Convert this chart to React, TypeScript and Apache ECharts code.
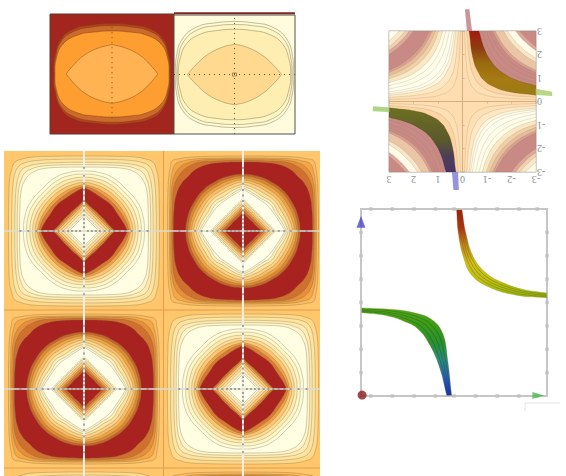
import React, { useEffect, useRef } from "react";
import * as echarts from "echarts";

type P = [number, number];
type Poly = { pts: P[]; fill: any; stroke?: string };

// ---------- data ----------
// Panel A (dark red lens plot): first-quadrant contours, from x axis to y axis
const lensA: P[][] = [
  [[0.945, 0], [0.93, 0.26], [0.82, 0.59], [0.6, 0.76], [0.3, 0.82], [0, 0.84]],
  [[0.93, 0], [0.91, 0.28], [0.81, 0.56], [0.59, 0.72], [0.3, 0.785], [0, 0.805]],
  [[0.92, 0], [0.9, 0.25], [0.79, 0.5], [0.55, 0.65], [0.28, 0.7], [0, 0.717]],
  [[0.74, 0], [0.62, 0.15], [0.44, 0.32], [0.2, 0.44], [0, 0.49]],
];
const lensAColors = ["#B4411F", "#CB6A2A", "#FE9E30", "#FFB352"];

// Panel B (pale lens plot)
const lensB: P[][] = [
  [[0.97, 0], [0.96, 0.3], [0.86, 0.6], [0.62, 0.8], [0.3, 0.87], [0, 0.89]],
  [[0.95, 0], [0.93, 0.28], [0.83, 0.57], [0.59, 0.76], [0.3, 0.82], [0, 0.84]],
  [[0.93, 0], [0.9, 0.26], [0.79, 0.52], [0.56, 0.68], [0.28, 0.74], [0, 0.76]],
  [[0.78, 0], [0.64, 0.16], [0.45, 0.33], [0.2, 0.46], [0, 0.51]],
];
const lensBColors = ["#FFF9D4", "#FFF6C6", "#FFEEB2", "#FFD98F"];

// Panel D: contour octants (axis to diagonal), in half-cell units
const paleCell: P[][] = [
  [[0.95, 0], [0.945, 0.45], [0.935, 0.66], [0.91, 0.78], [0.87, 0.87]],
  [[0.91, 0], [0.905, 0.4], [0.89, 0.61], [0.865, 0.74], [0.82, 0.82]],
  [[0.87, 0], [0.865, 0.36], [0.85, 0.57], [0.825, 0.69], [0.78, 0.78]],
  [[0.84, 0], [0.835, 0.34], [0.82, 0.54], [0.79, 0.65], [0.74, 0.74]],
  [[0.81, 0], [0.805, 0.32], [0.79, 0.51], [0.755, 0.62], [0.7, 0.7]],
  [[0.76, 0], [0.74, 0.2], [0.67, 0.37], [0.53, 0.53]],
  [[0.72, 0], [0.7, 0.19], [0.63, 0.35], [0.5, 0.5]],
  [[0.68, 0], [0.66, 0.17], [0.59, 0.33], [0.47, 0.47]],
  [[0.645, 0], [0.62, 0.16], [0.55, 0.31], [0.44, 0.44]],
  [[0.615, 0], [0.585, 0.15], [0.52, 0.29], [0.415, 0.415]],
  [[0.59, 0], [0.55, 0.14], [0.48, 0.27], [0.385, 0.385]],
  [[0.57, 0], [0.53, 0.12], [0.45, 0.25], [0.36, 0.36]],
  [[0.55, 0], [0.5, 0.1], [0.42, 0.22], [0.335, 0.335]],
  [[0.39, 0], [0.32, 0.07], [0.26, 0.14], [0.2, 0.2]],
  [[0.365, 0], [0.3, 0.07], [0.24, 0.13], [0.185, 0.185]],
  [[0.335, 0], [0.28, 0.06], [0.22, 0.12], [0.17, 0.17]],
  [[0.3, 0], [0.25, 0.05], [0.2, 0.1], [0.15, 0.15]],
  [[0.26, 0], [0.21, 0.05], [0.17, 0.09], [0.13, 0.13]],
  [[0.22, 0], [0.18, 0.04], [0.14, 0.08], [0.11, 0.11]],
  [[0.19, 0], [0.15, 0.04], [0.12, 0.07], [0.095, 0.095]],
];
const paleCellColors = [
  "#FFD88A", "#FFE3A0", "#FFECB5", "#FFF5C8", "#FFFDE2",
  "#FFFCDA", "#FFF6C8", "#FFEBB0", "#FFDD95", "#FDC673", "#F0A24A", "#D87A33", "#A8231F",
  "#D27A34", "#EBA04A", "#FBC478", "#FFDB9A", "#FFECBA", "#FFF8D8", "#FFFEE8",
];
const bigCell: P[][] = [
  [[0.95, 0], [0.945, 0.46], [0.935, 0.67], [0.915, 0.8], [0.89, 0.89]],
  [[0.925, 0], [0.92, 0.43], [0.91, 0.63], [0.885, 0.76], [0.85, 0.85]],
  [[0.91, 0], [0.905, 0.4], [0.89, 0.59], [0.855, 0.72], [0.8, 0.8]],
  [[0.895, 0], [0.885, 0.37], [0.87, 0.55], [0.825, 0.67], [0.76, 0.76]],
  [[0.875, 0], [0.865, 0.3], [0.835, 0.47], [0.775, 0.6], [0.69, 0.69]],
  [[0.72, 0], [0.69, 0.2], [0.62, 0.36], [0.51, 0.51]],
  [[0.695, 0], [0.665, 0.19], [0.6, 0.34], [0.49, 0.49]],
  [[0.67, 0], [0.64, 0.17], [0.57, 0.32], [0.465, 0.465]],
  [[0.645, 0], [0.61, 0.16], [0.54, 0.3], [0.44, 0.44]],
  [[0.62, 0], [0.58, 0.15], [0.51, 0.28], [0.415, 0.415]],
  [[0.595, 0], [0.55, 0.13], [0.48, 0.26], [0.39, 0.39]],
  [[0.57, 0], [0.52, 0.12], [0.44, 0.24], [0.365, 0.365]],
  [[0.55, 0], [0.49, 0.11], [0.41, 0.23], [0.34, 0.34]],
  [[0.53, 0], [0.47, 0.1], [0.39, 0.22], [0.315, 0.315]],
  [[0.41, 0], [0.34, 0.07], [0.27, 0.14], [0.205, 0.205]],
  [[0.385, 0], [0.32, 0.07], [0.255, 0.135], [0.195, 0.195]],
  [[0.36, 0], [0.3, 0.06], [0.24, 0.125], [0.18, 0.18]],
  [[0.33, 0], [0.27, 0.06], [0.22, 0.115], [0.165, 0.165]],
  [[0.3, 0], [0.25, 0.05], [0.2, 0.1], [0.15, 0.15]],
  [[0.27, 0], [0.22, 0.05], [0.18, 0.09], [0.135, 0.135]],
  [[0.235, 0], [0.19, 0.04], [0.15, 0.08], [0.118, 0.118]],
];
const bigCellColors = [
  "#FDBB60", "#F5A748", "#E68F3A", "#D0702F", "#A8231F",
  "#C5652B", "#DE8835", "#F0A545", "#F9BF68", "#FFD285", "#FFE3A0", "#FFF0BE", "#FFFADA", "#FFFEE8",
  "#FFF6D0", "#FFE6AC", "#FFD488", "#F5B160", "#E08F40", "#C8672E", "#A8231F",
];
const paleCenters: P[] = [[0, 0], [2, -2], [0, -4]];
const bigCenters: P[] = [[2, 0], [0, -2], [2, -4]];
const crossX = [0, 2];
const crossY = [0, -2];
const borderX = [1];
const borderY = [-1, -3];
const crossTicks = [0.05, 0.1, 0.15, 0.2, 0.26, 0.32, 0.38, 0.45, 0.52, 0.6, 0.7, 0.8];

// Panel C: hyperbolic contours (half-curves, edge to diagonal) by level
const curves: P[][] = [
  [[3, 0.08], [1.5, 0.17], [0.8, 0.31], [0.5, 0.5]],
  [[3, 0.17], [1.6, 0.31], [1, 0.5], [0.71, 0.71]],
  [[3, 0.27], [1.8, 0.44], [1.2, 0.67], [0.89, 0.89]],
  [[3, 0.33], [2, 0.5], [1.4, 0.71], [1, 1]],
  [[3, 0.4], [2, 0.6], [1.5, 0.8], [1.1, 1.1]],
  [[3, 0.53], [2.2, 0.73], [1.6, 1], [1.26, 1.26]],
  [[3, 0.67], [2.2, 0.91], [1.7, 1.18], [1.41, 1.41]],
  [[3, 0.8], [2.3, 1.04], [1.8, 1.33], [1.55, 1.55]],
  [[3, 0.97], [2.4, 1.2], [2, 1.45], [1.7, 1.7]],
  [[3, 1.1], [2.5, 1.32], [2.1, 1.57], [1.82, 1.82]],
  [[3, 1.23], [2.5, 1.48], [2.2, 1.68], [1.92, 1.92]],
  [[3, 1.33], [2.5, 1.6], [2.2, 1.82], [2, 2]],
  [[3, 1.67], [2.6, 1.92], [2.24, 2.24]],
  [[3, 1.83], [2.6, 2.12], [2.35, 2.35]],
  [[3, 2], [2.7, 2.22], [2.45, 2.45]],
  [[3, 2.17], [2.75, 2.36], [2.55, 2.55]],
  [[3, 2.33], [2.8, 2.5], [2.65, 2.65]],
  [[3, 2.57], [2.78, 2.78]],
];
const sameSignLevels = [0, 1, 2, 3, 4, 5, 6, 7, 8, 9, 10, 11, 14, 15, 16, 17];
const sameSignColors = [
  "#FFDFB4", "#FFE8C4", "#FFF6DC", "#FFFDEE", "#FFFDEC", "#FFFDEA", "#FFFCE8",
  "#F8E8C4", "#F0D0A8", "#E6BC9A", "#D8A08E", "#C98A86", "#DDA79A", "#EFD0B0", "#F8E8C8", "#FFFAEA",
];
const oppositeSignLevels = [0, 1, 2, 5, 6, 7, 8, 9, 10, 11, 12, 13, 15, 16];
const oppositeSignColors = [
  "#FFDFB4", "#FDD4A4", "#FBC890", "#C98A86", "#C98A86", "#C98A86", "#C98A86", "#C98A86",
  "#D8A08E", "#EBC6A6", "#F8E6C6", "#FFFBE8", "#DDA79A", "#C98A86",
];
const bandInnerLevel = 2;
const bandOuterLevel = 6;
const bandTopStops = ["#A81810", "#8E3A10", "#9A6A10", "#A67A14", "#9A7A14"];
const bandBottomStops = ["#6E7020", "#646428", "#5A5A2A", "#4E3E58", "#4A3468"];
const stripRight: P[] = [[-2.98, 0.54], [-3.66, 0.42], [-3.66, 0.23], [-2.98, 0.28]];
const stripTop: P[] = [[-0.1, 3.93], [-0.28, 3.93], [-0.39, 3], [-0.18, 3]];
const stripBottom: P[] = [[0.43, -3], [0.18, -3], [0.15, -3.77], [0.37, -3.77]];
const stripLeft: P[] = [[3.66, -0.2], [2.98, -0.25], [2.98, -0.45], [3.66, -0.42]];
const stripColors = ["rgba(160,200,90,0.75)", "rgba(190,130,140,0.85)", "rgba(130,130,215,0.85)", "rgba(160,205,110,0.85)"];

// Panel E: the two bands
const upperBandLines: P[][] = [
  [[0.12, 3.96], [0.2, 2.96], [0.43, 1.96], [0.82, 1.17], [1.66, 0.64], [2.89, 0.31], [4.28, 0.2]],
  [[0.18, 3.96], [0.29, 2.96], [0.55, 1.96], [0.99, 1.19], [1.82, 0.69], [2.97, 0.37], [4.28, 0.25]],
  [[0.24, 3.96], [0.37, 2.96], [0.66, 1.96], [1.16, 1.2], [1.97, 0.74], [3.05, 0.44], [4.28, 0.3]],
  [[0.31, 3.96], [0.46, 2.96], [0.78, 1.96], [1.33, 1.22], [2.12, 0.79], [3.12, 0.5], [4.28, 0.36]],
  [[0.37, 3.96], [0.55, 2.96], [0.89, 1.96], [1.51, 1.24], [2.28, 0.84], [3.2, 0.56], [4.28, 0.41]],
];
const lowerBandLines: P[][] = [
  [[-4.26, -0.23], [-2.95, -0.29], [-1.88, -0.43], [-1.03, -0.73], [-0.52, -1.33], [-0.29, -2.47], [-0.11, -3.97]],
  [[-4.26, -0.28], [-3.03, -0.35], [-2.0, -0.52], [-1.19, -0.83], [-0.67, -1.45], [-0.38, -2.56], [-0.17, -3.97]],
  [[-4.26, -0.34], [-3.1, -0.41], [-2.11, -0.61], [-1.34, -0.93], [-0.82, -1.58], [-0.47, -2.65], [-0.23, -3.97]],
  [[-4.26, -0.39], [-3.18, -0.47], [-2.22, -0.7], [-1.5, -1.04], [-0.96, -1.71], [-0.56, -2.74], [-0.29, -3.97]],
  [[-4.26, -0.44], [-3.26, -0.54], [-2.34, -0.79], [-1.65, -1.14], [-1.11, -1.83], [-0.65, -2.83], [-0.34, -3.97]],
];
const upperStops = ["#B01212", "#B8301A", "#C88A20", "#D0C018", "#C0C010", "#98B818"];
const lowerStops = ["#58A818", "#3C9A18", "#2A9030", "#2E8A80", "#3060C0", "#2030D8"];
const frameTicksX = [-3.85, -2.85, -1.85, -0.85, 0, 1, 2, 3, 3.85];
const frameTicksY = [-3, -2, -1, 0, 1, 2, 3];
const originPoint: P[] = [[-4.25, -3.96]];
const yArrow: P[] = [[-4.3, 3.45]];
const xArrow: P[] = [[3.9, -3.98]];

// ---------- helpers ----------
const octantToQuadrant = (o: P[]): P[] => {
  const back = o.slice(0, -1).reverse().map(([x, y]) => [y, x] as P);
  return [...o, ...back];
};
const isDiamond = (o: P[]) => o[o.length - 1][0] / o[0][0] < 0.66;
const closeLoop = (q: P[], cx = 0, cy = 0, sharp = false): P[] => {
  const a = q.map(([x, y]) => [x, y] as P);
  const b = q.slice(0, -1).reverse().map(([x, y]) => [-x, y] as P);
  const c = q.slice(1).map(([x, y]) => [-x, -y] as P);
  const d = q.slice(1, -1).reverse().map(([x, y]) => [x, -y] as P);
  const loop = [...a, ...b, ...c, ...d];
  const out = sharp ? loop.flatMap((p) => (p[0] === 0 || p[1] === 0 ? [p, p] : [p])) : loop;
  return out.map(([x, y]) => [x + cx, y + cy] as P);
};
const halfToFull = (h: P[]): P[] => {
  const back = h.slice(0, -1).reverse().map(([x, y]) => [y, x] as P);
  return [...h, ...back];
};
const vGrad = (stops: string[]) =>
  new echarts.graphic.LinearGradient(0, 0, 0, 1, stops.map((color, i) => ({ offset: i / (stops.length - 1), color })));

const polySeries = (gridIndex: number, polys: Poly[], clip: boolean, smooth: number, lw = 0.7): any => ({
  type: "custom",
  coordinateSystem: "cartesian2d",
  xAxisIndex: gridIndex,
  yAxisIndex: gridIndex,
  clip,
  silent: true,
  data: polys.map((p) => p.pts[0]),
  renderItem: (params: any, api: any) => {
    const p = polys[params.dataIndex];
    return {
      type: "polygon",
      shape: { points: p.pts.map((q) => api.coord(q)), smooth },
      style: { fill: p.fill, stroke: p.stroke ?? "rgba(115,105,65,0.45)", lineWidth: lw },
    };
  },
});
const lineSeries = (gridIndex: number, data: P[], color: string, width: number, type: any = "solid", clip = true): any => ({
  type: "line",
  xAxisIndex: gridIndex,
  yAxisIndex: gridIndex,
  data,
  symbol: "none",
  silent: true,
  clip,
  lineStyle: { color, width, type },
});
const hiddenAxis = (gridIndex: number, min: number, max: number): any => ({
  type: "value",
  gridIndex,
  min,
  max,
  show: false,
});

export default function App() {
  const ref = useRef<HTMLDivElement>(null);
  useEffect(() => {
    document.body.style.margin = "0";
    const chart = echarts.init(ref.current!, undefined, { renderer: "svg" });

    const polysA: Poly[] = lensA.map((q, i) => ({
      pts: closeLoop(q, 0, 0, i === lensA.length - 1),
      fill: lensAColors[i],
      stroke: "rgba(110,60,20,0.6)",
    }));
    const polysB: Poly[] = lensB.map((q, i) => ({
      pts: closeLoop(q, 0, 0, i === lensB.length - 1),
      fill: lensBColors[i],
      stroke: "rgba(130,120,80,0.7)",
    }));

    const polysC: Poly[] = [];
    const addQuadrant = (sx: number, sy: number, levels: number[], colors: string[]) => {
      levels.forEach((lv, i) => {
        const curve = halfToFull(curves[lv]).map(([u, v]) => [u * sx, v * sy] as P);
        const first = curve[0];
        const last = curve[curve.length - 1];
        const corner: P = [3 * sx, 3 * sy];
        polysC.push({
          pts: [first, ...curve, last, corner, corner],
          fill: colors[i],
          stroke: "rgba(140,125,90,0.4)",
        });
      });
    };
    [[1, 1], [-1, -1]].forEach(([sx, sy]) => addQuadrant(sx, sy, sameSignLevels, sameSignColors));
    [[-1, 1], [1, -1]].forEach(([sx, sy]) => addQuadrant(sx, sy, oppositeSignLevels, oppositeSignColors));
    const band = (sx: number, sy: number, stops: string[]) => {
      const inner = halfToFull(curves[bandInnerLevel]).map(([u, v]) => [u * sx, v * sy] as P);
      const outer = halfToFull(curves[bandOuterLevel]).map(([u, v]) => [u * sx, v * sy] as P).reverse();
      polysC.push({
        pts: [inner[0], ...inner, inner[inner.length - 1], outer[0], ...outer, outer[outer.length - 1]],
        fill: vGrad(stops),
        stroke: "rgba(60,50,20,0.3)",
      });
    };
    band(-1, 1, bandTopStops);
    band(1, -1, bandBottomStops);

    const polysD: Poly[] = [];
    paleCenters.forEach(([cx, cy]) =>
      paleCell.forEach((o, i) =>
        polysD.push({ pts: closeLoop(octantToQuadrant(o), cx, cy, isDiamond(o)), fill: paleCellColors[i] })
      )
    );
    bigCenters.forEach(([cx, cy]) =>
      bigCell.forEach((o, i) =>
        polysD.push({ pts: closeLoop(octantToQuadrant(o), cx, cy, isDiamond(o)), fill: bigCellColors[i] })
      )
    );

    const bandPoly = (lines: P[][], stops: string[]): Poly => {
      const top = lines[0];
      const bottom = lines[lines.length - 1].slice().reverse();
      return {
        pts: [top[0], ...top, top[top.length - 1], bottom[0], ...bottom, bottom[bottom.length - 1]],
        fill: vGrad(stops),
        stroke: "rgba(120,120,0,0.35)",
      };
    };

    const gridTicks: P[] = [];
    crossX.forEach((cx) => crossY.forEach((cy) => crossTicks.forEach((t) => {
      gridTicks.push([cx + t, cy], [cx - t, cy], [cx, cy + t], [cx, cy - t]);
    })));

    const frameMarks: P[] = [];
    frameTicksX.forEach((x) => frameMarks.push([x, -4], [x, 4]));
    frameTicksY.forEach((y) => frameMarks.push([-4.3, y], [4.3, y]));

    const dX = [-1.006, 2.969];
    const dY = [-3.101, 1.013];

    chart.setOption({
      animation: false,
      backgroundColor: "#fff",
      grid: [
        { left: 50, top: 14, width: 124, height: 120, show: true, backgroundColor: "#A3261E", borderColor: "#5A3A30", borderWidth: 1 },
        { left: 174, top: 15, width: 121, height: 119, show: true, backgroundColor: "#FFFBDC", borderColor: "#55504A", borderWidth: 1 },
        { left: 389, top: 31, width: 147, height: 141, show: true, backgroundColor: "#FFDDB0", borderColor: "#A8A4A0", borderWidth: 1 },
        { left: 4, top: 151, width: 316, height: 325, show: true, backgroundColor: "#FFC66C", borderWidth: 0 },
        { left: 361, top: 209, width: 186, height: 187, show: true, backgroundColor: "#fff", borderColor: "#C6C6C6", borderWidth: 2 },
      ],
      xAxis: [
        hiddenAxis(0, -1, 1),
        hiddenAxis(1, -1, 1),
        {
          type: "value", gridIndex: 2, min: -3, max: 3, interval: 1, inverse: true, position: "bottom",
          splitLine: { show: false }, axisLine: { show: false },
          axisTick: { show: true, length: 2, lineStyle: { color: "#BBB" } },
          axisLabel: { rotate: 180, color: "#8E8E8E", fontSize: 10, margin: 2, fontFamily: "Liberation Serif" },
        },
        hiddenAxis(3, dX[0], dX[1]),
        hiddenAxis(4, -4.3, 4.3),
      ],
      yAxis: [
        hiddenAxis(0, -1, 1),
        hiddenAxis(1, -1, 1),
        {
          type: "value", gridIndex: 2, min: -3, max: 3, interval: 1, position: "right",
          splitLine: { show: false }, axisLine: { show: false },
          axisTick: { show: true, length: 2, lineStyle: { color: "#BBB" } },
          axisLabel: { rotate: 180, color: "#8E8E8E", fontSize: 10, margin: 1, fontFamily: "Liberation Serif" },
        },
        hiddenAxis(3, dY[0], dY[1]),
        hiddenAxis(4, -4, 4),
      ],
      graphic: [
        { type: "polyline", shape: { points: [[525, 411], [525, 403], [560, 403]] }, style: { fill: "none", stroke: "#E4E4E4", lineWidth: 1 } },
      ],
      series: [
        polySeries(0, polysA, false, 0.45),
        lineSeries(0, [[0, -0.82], [0, 0.82]], "#7A5020", 1, [1, 4]),
        polySeries(1, polysB, false, 0.45),
        lineSeries(1, [[0, -1], [0, 1]], "#6E5020", 1, [1, 4]),
        lineSeries(1, [[-1, 0], [1, 0]], "#6E5020", 1, [1, 4]),
        lineSeries(1, [[-1, 1.03], [1, 1.03]], "#7A2A22", 2, "solid", false),
        {
          type: "scatter", xAxisIndex: 1, yAxisIndex: 1, data: [[0, 0]], symbol: "rect", symbolSize: [4, 3], silent: true,
          itemStyle: { color: "#FFE7B0", borderColor: "#7A5A20", borderWidth: 0.8 },
        },
        polySeries(2, polysC, true, 0.5, 0.5),
        lineSeries(2, [[0, -3], [0, 3]], "#D8AE80", 1),
        lineSeries(2, [[-3, 0], [3, 0]], "#D8AE80", 1),
        polySeries(2, [stripRight, stripTop, stripBottom, stripLeft].map((pts, i) => ({ pts, fill: stripColors[i], stroke: "none" })), false, 0),
        polySeries(3, polysD, true, 0.45),
        ...borderX.map((x) => lineSeries(3, [[x, dY[0]], [x, dY[1]]], "#E49E4E", 1)),
        ...borderY.map((y) => lineSeries(3, [[dX[0], y], [dX[1], y]], "#E49E4E", 1)),
        ...crossX.map((x) => lineSeries(3, [[x, dY[0]], [x, dY[1]]], "#F2EFE8", 2)),
        ...crossY.map((y) => lineSeries(3, [[dX[0], y], [dX[1], y]], "#DEDBD2", 1.6)),
        {
          type: "scatter", xAxisIndex: 3, yAxisIndex: 3, data: gridTicks, symbol: "rect", symbolSize: 2, silent: true,
          z: 5,
          itemStyle: { color: "#8F8F82" },
        },
        polySeries(4, [bandPoly(upperBandLines, upperStops)], false, 0.4),
        polySeries(4, [bandPoly(lowerBandLines, lowerStops)], false, 0.4),
        ...upperBandLines.slice(1, -1).map((d) => ({ ...lineSeries(4, d, "rgba(90,90,0,0.55)", 0.7), smooth: 0.3 })),
        ...lowerBandLines.slice(1, -1).map((d) => ({ ...lineSeries(4, d, "rgba(10,80,30,0.5)", 0.7), smooth: 0.3 })),
        {
          type: "scatter", xAxisIndex: 4, yAxisIndex: 4, data: frameMarks, symbol: "rect", symbolSize: 3.5, clip: false, silent: true,
          itemStyle: { color: "#BEBEBE" },
        },
        {
          type: "scatter", xAxisIndex: 4, yAxisIndex: 4, data: originPoint, symbol: "circle", symbolSize: 9, clip: false, silent: true,
          itemStyle: { color: "#8A1C1C" },
        },
        {
          type: "scatter", xAxisIndex: 4, yAxisIndex: 4, data: yArrow, symbol: "triangle", symbolSize: [9, 12], clip: false, silent: true,
          itemStyle: { color: "#4A48C8" },
        },
        {
          type: "scatter", xAxisIndex: 4, yAxisIndex: 4, data: xArrow, symbol: "triangle", symbolSize: [7, 12], symbolRotate: -90, clip: false, silent: true,
          itemStyle: { color: "#50B850" },
        },
      ],
    });
    return () => chart.dispose();
  }, []);
  return <div ref={ref} style={{ position: "fixed", left: 0, top: 0, width: 566, height: 476 }} />;
}
